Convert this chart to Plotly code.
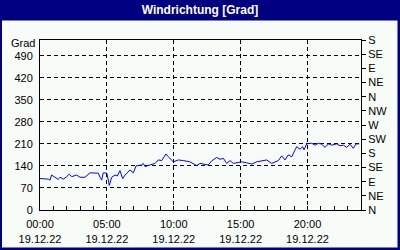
import plotly.graph_objects as go

# --- data ---
hours = [0, 0.62, 0.75, 0.87, 1.12, 1.37, 1.5, 1.74, 2.0, 2.19, 2.37, 2.74, 2.99, 3.36,
         3.74, 4.11, 4.36, 4.49, 4.61, 4.73, 4.99, 5.11, 5.18, 5.36, 5.61, 5.78, 5.98,
         6.18, 6.36, 6.73, 6.98, 7.18, 7.6, 7.72, 7.85, 8.22, 8.6, 8.84, 9.1, 9.42, 9.59,
         9.97, 10.34, 10.71, 11.21, 11.72, 11.96, 12.21, 12.58, 12.84, 13.21, 13.46,
         13.71, 13.96, 14.21, 14.45, 14.71, 15.08, 15.45, 15.83, 16.2, 16.58, 16.95,
         17.32, 17.57, 17.82, 18.07, 18.32, 18.56, 18.82, 19.07, 19.19, 19.44, 19.64,
         19.74, 19.94, 20.31, 20.56, 20.81, 21.06, 21.31, 21.56, 21.81, 22.18, 22.43,
         22.68, 22.93, 23.18, 23.42, 23.63, 23.87]
direction = [100, 98, 95, 111, 104, 97, 104, 98, 106, 114, 106, 111, 104, 104,
             118, 117, 117, 104, 95, 118, 117, 95, 78, 104, 111, 108, 125,
             100, 111, 127, 118, 140, 143, 148, 138, 143, 148, 159, 157, 178, 169,
             153, 159, 157, 153, 141, 148, 146, 143, 156, 167, 161,
             164, 148, 157, 148, 151, 153, 150, 146, 153, 157, 159,
             148, 153, 157, 172, 159, 175, 169, 191, 201, 193, 201,
             191, 210, 212, 206, 212, 209, 199, 210, 206, 210, 204,
             206, 199, 209, 196, 210, 210]

left_ticks = [0, 70, 140, 210, 280, 350, 420, 490]
right_ticks = [0, 45, 90, 135, 180, 225, 270, 315, 360, 405, 450, 495, 540]
right_labels = ["N", "NE", "E", "SE", "S", "SW", "W", "NW", "N", "NE", "E", "SE", "S"]
x_ticks = [0, 5, 10, 15, 20]
x_labels = ["00:00<br>19.12.22", "05:00<br>19.12.22", "10:00<br>19.12.22",
            "15:00<br>19.12.22", "20:00<br>19.12.22"]
title_text = "Windrichtung [Grad]"
unit_text = "Grad"

NAVY = "#000080"
BG = "#F8FCF8"
FONT = "Liberation Sans"

fig = go.Figure()
fig.add_trace(go.Scatter(x=hours, y=direction, mode="lines",
                         line=dict(color="#0000FF", width=1), showlegend=False,
                         hoverinfo="skip"))
# invisible trace to activate right axis
fig.add_trace(go.Scatter(x=[0], y=[0], yaxis="y2", mode="markers",
                         marker=dict(opacity=0), showlegend=False, hoverinfo="skip"))

fig.update_layout(
    width=400, height=250,
    margin=dict(l=40, r=39, t=40, b=40, autoexpand=False),
    paper_bgcolor=NAVY, plot_bgcolor=BG,
    font=dict(family=FONT, size=11, color="black"),
    title=dict(text="<b>" + title_text + "</b>", x=0.5, xref="container",
               y=0.96, yref="container", yanchor="middle", xanchor="center",
               font=dict(family=FONT, size=12, color="white")),
    xaxis=dict(range=[0, 24], tickvals=x_ticks, ticktext=x_labels, automargin=False,
               showline=True, linecolor="black", linewidth=1, mirror=True,
               showgrid=True, gridcolor="black", griddash="4px,3px", gridwidth=1,
               ticks="inside", ticklen=4, tickcolor="black", ticklabelstandoff=4,
               minor=dict(dtick=1, ticks="inside", ticklen=4, tickcolor="black", showgrid=False),
               zeroline=False, fixedrange=True),
    yaxis=dict(range=[0, 540], tickvals=left_ticks, automargin=False,
               showline=True, linecolor="black", linewidth=1,
               showgrid=True, gridcolor="black", griddash="4px,3px", gridwidth=1,
               ticks="", ticklabelstandoff=4, zeroline=False, fixedrange=True),
    yaxis2=dict(range=[0, 540], tickvals=right_ticks, ticktext=right_labels,
                automargin=False,
                overlaying="y", side="right", showline=True, linecolor="black",
                linewidth=1, showgrid=False, ticks="outside", ticklen=4,
                tickcolor="black", zeroline=False, fixedrange=True),
    shapes=[dict(type="rect", xref="paper", yref="paper",
                 x0=(2 - 40) / 321, x1=(397.5 - 40) / 321,
                 y0=(210 - 247.5) / 170, y1=(210 - 20.5) / 170,
                 fillcolor=BG, line=dict(width=0), layer="below")],
    annotations=[dict(text=unit_text, xref="paper", yref="paper",
                      x=(37 - 40) / 321, y=(210 - 43) / 170, xanchor="right",
                      yanchor="middle", showarrow=False,
                      font=dict(family=FONT, size=11, color="black"))],
)

fig.write_html("out.html")
